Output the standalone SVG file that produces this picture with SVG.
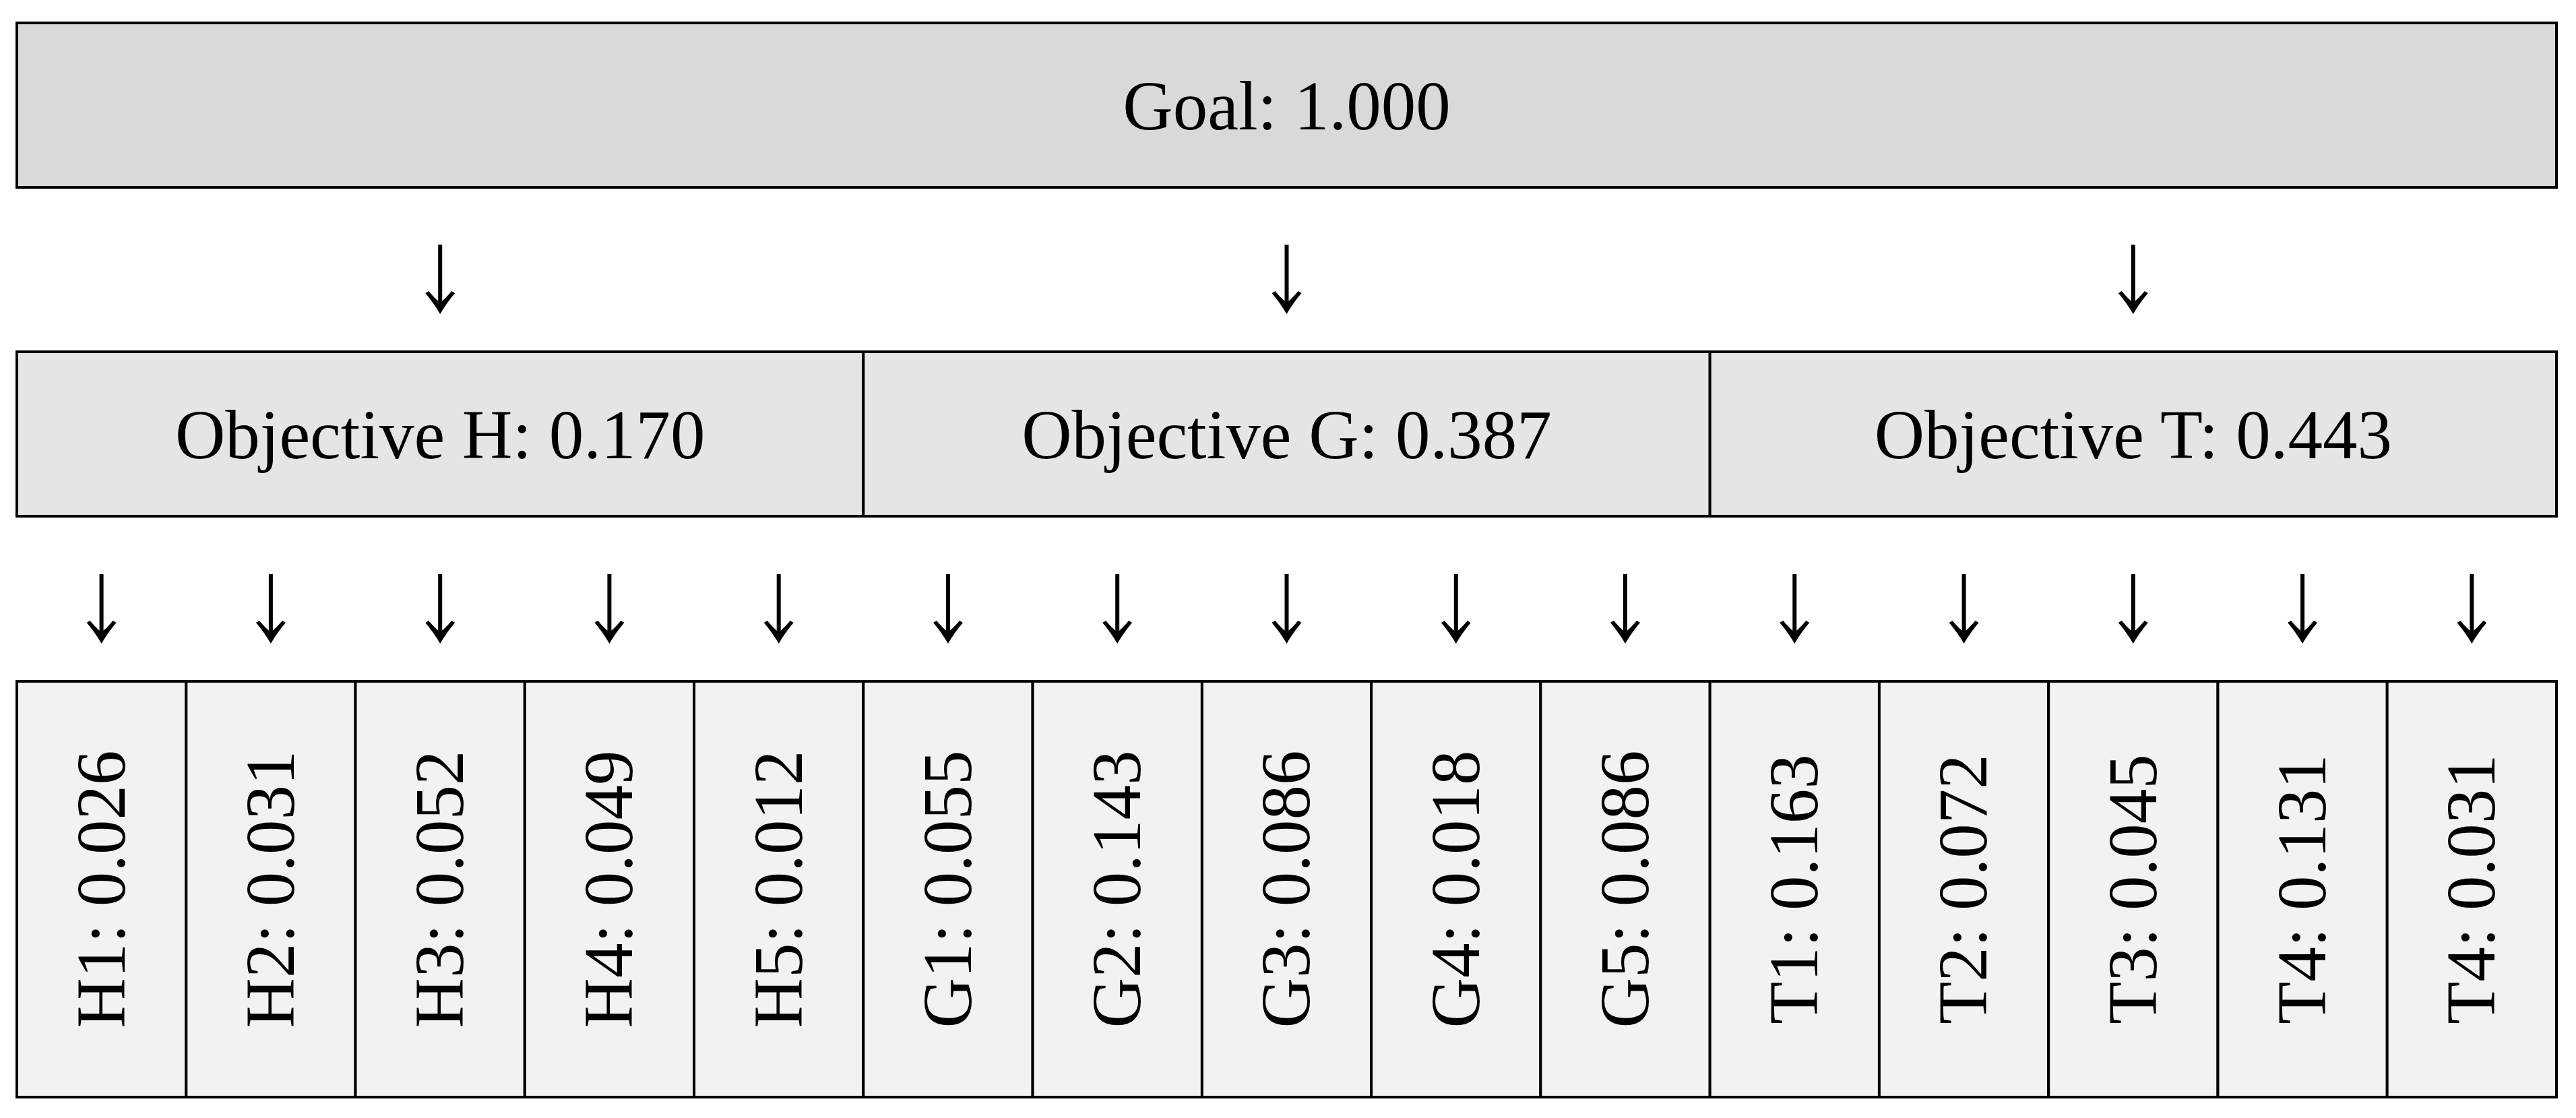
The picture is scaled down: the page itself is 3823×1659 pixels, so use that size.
<svg xmlns="http://www.w3.org/2000/svg" width="3823" height="1659" viewBox="0 0 3823 1659">
<style>
text{font-family:"Liberation Serif","Times New Roman",serif;font-size:103px;fill:#000;text-anchor:middle}
.box{stroke:#000;stroke-width:4}
.g{fill:#d9d9d9}.o{fill:#e5e5e5}.l{fill:#f2f2f2}
.shaft{fill:none;stroke:#000;stroke-width:6}
.head{fill:#000;stroke:none}
</style>
<defs>
<g id="arrowTop"><path class="shaft" d="M0 0V92"/><path class="head" d="M-22 72L-17 69Q-8 80 0 86Q8 80 17 69L22 72Q10 86 0 103Q-10 86 -22 72Z"/></g>
</defs>
<rect width="3823" height="1659" fill="#fff"/>
<g id="goal"><rect class="box g" x="25" y="34" width="3769" height="244"/><text x="1909.5" y="192">Goal: 1.000</text></g>
<g id="objH"><rect class="box o" x="25" y="522" width="1256.3" height="244"/><text x="653.2" y="680">Objective H: 0.170</text></g>
<g id="objG"><rect class="box o" x="1281.3" y="522" width="1256.4" height="244"/><text x="1909.5" y="680">Objective G: 0.387</text></g>
<g id="objT"><rect class="box o" x="2537.7" y="522" width="1256.3" height="244"/><text x="3165.8" y="680">Objective T: 0.443</text></g>
<g id="H1"><rect class="box l" x="25" y="1011" width="251.3" height="617"/><text transform="translate(185,1319.5) rotate(-90)">H1: 0.026</text></g>
<g id="H2"><rect class="box l" x="276.3" y="1011" width="251.3" height="617"/><text transform="translate(436,1319.5) rotate(-90)">H2: 0.031</text></g>
<g id="H3"><rect class="box l" x="527.5" y="1011" width="251.3" height="617"/><text transform="translate(687,1319.5) rotate(-90)">H3: 0.052</text></g>
<g id="H4"><rect class="box l" x="778.8" y="1011" width="251.3" height="617"/><text transform="translate(938,1319.5) rotate(-90)">H4: 0.049</text></g>
<g id="H5"><rect class="box l" x="1030.1" y="1011" width="251.3" height="617"/><text transform="translate(1190,1319.5) rotate(-90)">H5: 0.012</text></g>
<g id="G1"><rect class="box l" x="1281.3" y="1011" width="251.3" height="617"/><text transform="translate(1441,1319.5) rotate(-90)">G1: 0.055</text></g>
<g id="G2"><rect class="box l" x="1532.6" y="1011" width="251.3" height="617"/><text transform="translate(1692,1319.5) rotate(-90)">G2: 0.143</text></g>
<g id="G3"><rect class="box l" x="1783.9" y="1011" width="251.3" height="617"/><text transform="translate(1943,1319.5) rotate(-90)">G3: 0.086</text></g>
<g id="G4"><rect class="box l" x="2035.1" y="1011" width="251.3" height="617"/><text transform="translate(2195,1319.5) rotate(-90)">G4: 0.018</text></g>
<g id="G5"><rect class="box l" x="2286.4" y="1011" width="251.3" height="617"/><text transform="translate(2446,1319.5) rotate(-90)">G5: 0.086</text></g>
<g id="T1"><rect class="box l" x="2537.7" y="1011" width="251.3" height="617"/><text transform="translate(2697,1319.5) rotate(-90)">T1: 0.163</text></g>
<g id="T2"><rect class="box l" x="2788.9" y="1011" width="251.3" height="617"/><text transform="translate(2948,1319.5) rotate(-90)">T2: 0.072</text></g>
<g id="T3"><rect class="box l" x="3040.2" y="1011" width="251.3" height="617"/><text transform="translate(3200,1319.5) rotate(-90)">T3: 0.045</text></g>
<g id="T4a"><rect class="box l" x="3291.5" y="1011" width="251.3" height="617"/><text transform="translate(3451,1319.5) rotate(-90)">T4: 0.131</text></g>
<g id="T4b"><rect class="box l" x="3542.7" y="1011" width="251.3" height="617"/><text transform="translate(3702,1319.5) rotate(-90)">T4: 0.031</text></g>
<g id="connectors">
<use href="#arrowTop" x="653.2" y="363"/>
<use href="#arrowTop" x="1909.5" y="363"/>
<use href="#arrowTop" x="3165.8" y="363"/>
<use href="#arrowTop" x="150.6" y="852"/>
<use href="#arrowTop" x="401.9" y="852"/>
<use href="#arrowTop" x="653.2" y="852"/>
<use href="#arrowTop" x="904.4" y="852"/>
<use href="#arrowTop" x="1155.7" y="852"/>
<use href="#arrowTop" x="1407" y="852"/>
<use href="#arrowTop" x="1658.2" y="852"/>
<use href="#arrowTop" x="1909.5" y="852"/>
<use href="#arrowTop" x="2160.8" y="852"/>
<use href="#arrowTop" x="2412" y="852"/>
<use href="#arrowTop" x="2663.3" y="852"/>
<use href="#arrowTop" x="2914.6" y="852"/>
<use href="#arrowTop" x="3165.8" y="852"/>
<use href="#arrowTop" x="3417.1" y="852"/>
<use href="#arrowTop" x="3668.4" y="852"/>
</g>
</svg>
